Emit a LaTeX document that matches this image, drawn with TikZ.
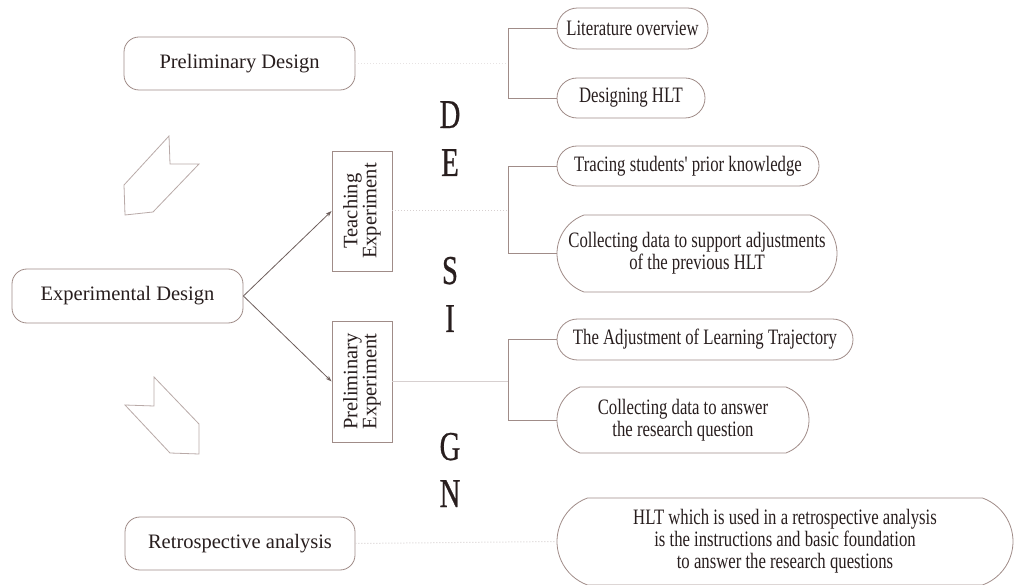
\documentclass[tikz,border=0pt]{standalone}
\usepackage{fontspec}
\setmainfont{Liberation Serif}
\newfontfamily\boxfont[FakeStretch=0.76]{Liberation Serif}
\newfontfamily\bigfont[FakeStretch=0.7,FakeBold=0.6]{Liberation Serif}
\usetikzlibrary{shapes.misc,arrows.meta}
\definecolor{edge}{RGB}{160,140,136}
\definecolor{ink}{RGB}{40,30,30}
\definecolor{chev}{RGB}{185,170,168}
\definecolor{faint}{RGB}{215,208,208}
\definecolor{arr}{RGB}{110,95,92}
\tikzset{
  leftbox/.style={draw=edge, line width=0.8pt, rounded corners=15pt, text=ink, inner sep=0pt,
    font=\fontsize{20.5}{22}\selectfont},
  rbox/.style={draw=edge, line width=0.8pt, rounded rectangle, text=ink, inner sep=0pt,
    align=center, font=\boxfont\fontsize{22}{22}\selectfont},
  tallbox/.style={rbox, rounded rectangle arc length=140},
  vbox/.style={draw=edge, line width=0.8pt, text=ink, inner sep=0pt, align=center},
  vtext/.style={text=ink, rotate=90, align=center, font=\fontsize{20.5}{19}\selectfont},
  letter/.style={text=ink, inner sep=0pt, anchor=base, font=\bigfont\fontsize{41}{41}\selectfont},
  bracket/.style={draw=edge, line width=0.8pt},
  faintline/.style={draw=faint, line width=1pt, dotted},
  arrowline/.style={draw=arr, line width=0.8pt, -{Stealth[length=6pt,width=4pt]}},
  chevron/.style={draw=chev, line width=0.8pt, line join=miter}
}
\begin{document}
\begin{tikzpicture}[x=1pt,y=-1pt]
\useasboundingbox (0,0) rectangle (1015,585);
\fill[white] (0,0) rectangle (1015,585);

% left boxes
\node[leftbox, minimum width=231pt, minimum height=53pt] (pd) at (239.5,63.5) {Preliminary Design};
\node[leftbox, minimum width=231pt, minimum height=54pt] (ed) at (127.5,296) {Experimental Design};
\node[leftbox, minimum width=230pt, minimum height=53pt] (ra) at (240,543.5) {Retrospective analysis};

% chevron arrows
\draw[chevron] (169,136) -- (170,164) -- (199,164) -- (153,212) -- (125,215) -- (124,185) -- cycle;
\draw[chevron] (154,377) -- (154,406) -- (125,405) -- (170,453) -- (199,454) -- (199,424) -- cycle;

% vertical boxes
\node[vbox, minimum width=60pt, minimum height=120pt] (te) at (362,211) {};
\node[vtext] (tet) at (te.center) {Teaching\\Experiment};
\node[vbox, minimum width=60pt, minimum height=121pt] (pe) at (362,381.5) {};
\node[vtext] (pet) at (pe.center) {Preliminary\\Experiment};

% arrows
\draw[arrowline] (ed.east) -- (te.west);
\draw[arrowline] (ed.east) -- (pe.west);

% right boxes
\node[rbox, minimum width=151pt, minimum height=41pt] (lit) at (632.5,28.5) {Literature overview};
\node[rbox, minimum width=148pt, minimum height=40pt] (des) at (631,98) {Designing HLT};
\node[rbox, minimum width=262pt, minimum height=40pt] (tr) at (688,166) {Tracing students' prior knowledge};
\node[tallbox, minimum width=280pt, minimum height=77pt] (c1) at (697,253.5) {Collecting data to support adjustments\\of the previous HLT};
\node[rbox, minimum width=296pt, minimum height=41pt] (adj) at (705,339.5) {The Adjustment of Learning Trajectory};
\node[tallbox, minimum width=252pt, minimum height=66pt] (c2) at (683,420) {Collecting data to answer\\the research question};
\node[tallbox, minimum width=456pt, minimum height=87pt] (hlt) at (785,541.5) {HLT which is used in a retrospective analysis\\is the instructions and basic foundation\\to answer the research questions};

% brackets
\coordinate (b1) at (508,63.5);
\coordinate (b2) at (508,211);
\coordinate (b3) at (508,381.5);
\draw[bracket] (lit.west) -- (lit.west -| b1) |- (des.west);
\draw[bracket] (tr.west) -- (tr.west -| b2) |- (c1.west);
\draw[bracket] (adj.west) -- (adj.west -| b3) |- (c2.west);

% faint connectors
\draw[faintline, draw=faint!60] (pd.east) -- (b1);
\draw[faintline] (te.east) -- (b2);
\draw[draw=faint, line width=1pt] (pe.east) -- (b3);
\draw[faintline] (ra.east) -- (hlt.west);

% DESIGN letters
\node[letter] (lD) at (450,128) {D};
\node[letter] (lE) at (450,176) {E};
\node[letter] (lS) at (450,284) {S};
\node[letter] (lI) at (450,332) {I};
\node[letter] (lG) at (450,460) {G};
\node[letter] (lN) at (450,507) {N};
\end{tikzpicture}
\end{document}
